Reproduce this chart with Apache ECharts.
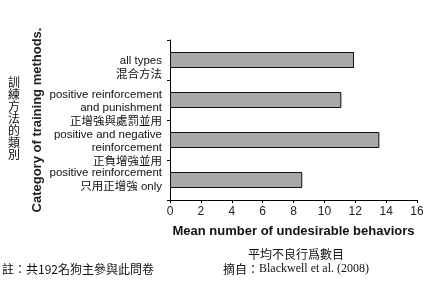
<!DOCTYPE html>
<html><head><meta charset="utf-8">
<script src="https://cdn.jsdelivr.net/npm/echarts@6/dist/echarts.min.js"></script>
<style>html,body{margin:0;padding:0;background:#fff}#c{width:438px;height:283px}</style>
</head><body><div id="c"></div>
<script>
const categories = [
  "positive reinforcement\n只用正增強 only",
  "positive and negative\nreinforcement\n正負增強並用",
  "positive reinforcement\nand punishment\n正增強與處罰並用",
  "all types\n混合方法"
];
const labelShift = [false, true, true, true];
const values = [8.57, 13.56, 11.1, 11.92];
const xTicks = [0, 2, 4, 6, 8, 10, 12, 14, 16];

const chart = echarts.init(document.getElementById('c'), null, {renderer: 'canvas'});
const cjk = '"Liberation Sans", Arial, "Noto Sans CJK TC", sans-serif';
chart.setOption({
  animation: false,
  backgroundColor: '#fff',
  grid: {left: 170, right: 21, top: 40, bottom: 83, containLabel: false},
  xAxis: {
    type: 'value', min: xTicks[0], max: xTicks[xTicks.length - 1], interval: 2,
    axisLine: {show: true, lineStyle: {color: '#000', width: 1}},
    axisTick: {show: true, length: 3, lineStyle: {color: '#000'}},
    splitLine: {show: false},
    axisLabel: {color: '#222', fontSize: 12, fontFamily: cjk, margin: 6},
    name: 'Mean number of undesirable behaviors',
    nameLocation: 'middle', nameGap: 25,
    nameTextStyle: {fontSize: 13, fontWeight: 'bold', color: '#111', fontFamily: cjk}
  },
  yAxis: {
    type: 'category',
    data: categories,
    axisLine: {show: true, lineStyle: {color: '#000', width: 1}},
    axisTick: {show: true, length: 3, lineStyle: {color: '#000'}},
    axisLabel: {
      interval: 0, hideOverlap: false,
      color: '#111', fontSize: 11.5, lineHeight: 13.5, fontFamily: cjk, margin: 8, align: 'right', verticalAlign: 'middle',
      formatter: (v, i) => labelShift[i] ? '{s|}\n' + v : v,
      rich: {s: {fontSize: 2, lineHeight: 16}}
    },
    name: 'Category of training methods.',
    nameLocation: 'middle', nameGap: 126, nameRotate: 90, nameMoveOverlap: false,
    nameTextStyle: {fontSize: 13, fontWeight: 'bold', color: '#222', fontFamily: cjk}
  },
  series: [{
    type: 'bar', data: values, barWidth: 16,
    itemStyle: {color: '#a8a8a8', borderColor: '#111', borderWidth: 1}
  }],
  graphic: [
    {type: 'text', left: 8, top: 76, style: {text: '訓\n練\n方\n法\n的\n類\n別', font: '12px "Noto Sans CJK TC"', lineHeight: 12, fill: '#111'}},
    {type: 'text', left: 248, top: 248, style: {text: '平均不良行爲數目', font: '12px "Noto Sans CJK TC"', fill: '#111'}},
    {type: 'text', left: 223, top: 263, style: {rich: {a: {font: '12px "Noto Sans CJK TC"', fill: '#111'}, b: {font: '12px "Liberation Serif"', fill: '#111'}}, text: '{a|摘自：}{b|Blackwell et al. (2008)}'}},
    {type: 'text', left: 2, top: 263, style: {text: '註：共192名狗主參與此問卷', font: '12px "Noto Sans CJK TC"', fill: '#111'}}
  ]
});
</script></body></html>
